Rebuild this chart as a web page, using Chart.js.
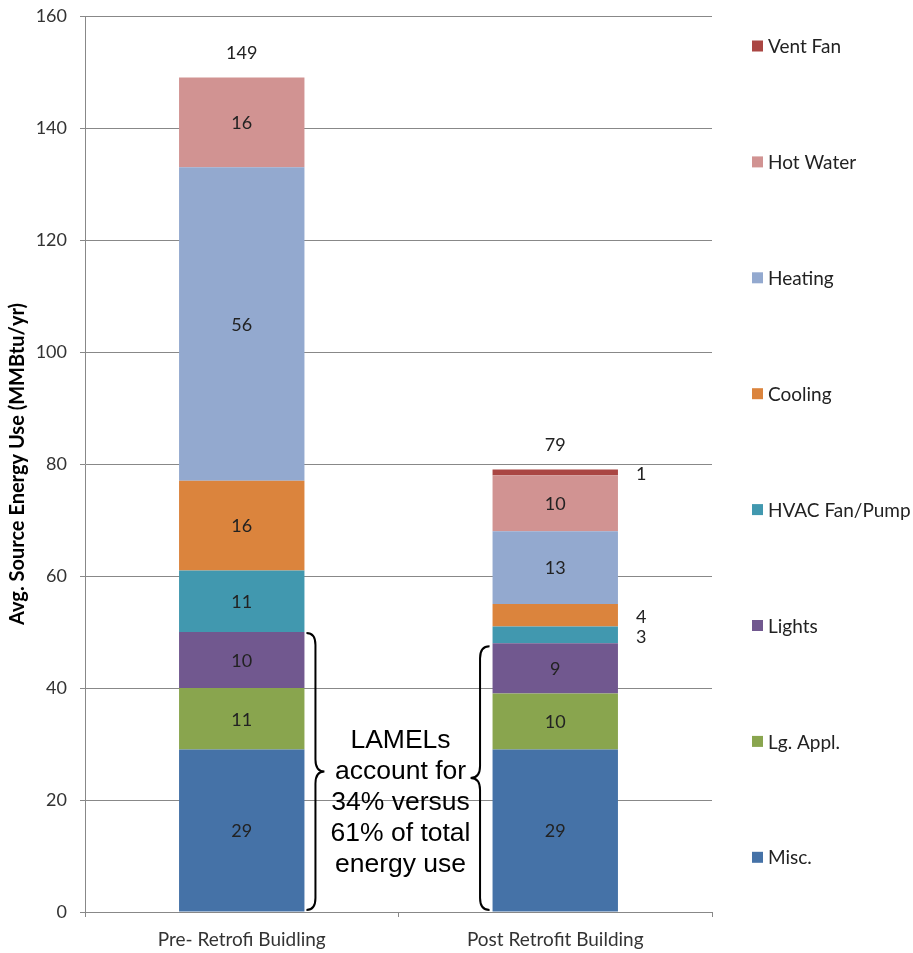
<!DOCTYPE html>
<html>
<head>
<meta charset="utf-8">
<script src="https://cdn.jsdelivr.net/npm/chart.js@4"></script>
<style>
    html, body { margin: 0; padding: 0; background: #fff; }
    #wrap { position: relative; width: 913px; height: 953px; }
</style>
</head>
<body>
<div id="wrap"><canvas id="energyChart"></canvas></div>
<script>
const categories = ['Pre- Retrofi Buidling', 'Post Retrofit Building'];
const seriesNames = ['Misc.', 'Lg. Appl.', 'Lights', 'HVAC Fan/Pump', 'Cooling', 'Heating', 'Hot Water', 'Vent Fan'];
const seriesColors = ['#4572A7', '#89A54E', '#71588F', '#4198AF', '#DB843D', '#93A9CF', '#D19392', '#AA4643'];

const misc = [29, 29];
const lgAppl = [11, 10];
const lights = [10, 9];
const hvacFan = [11, 3];
const cooling = [16, 4];
const heating = [56, 13];
const hotWater = [16, 10];
const ventFan = [0, 1];
const totals = [149, 79];

const yTicks = [0, 20, 40, 60, 80, 100, 120, 140, 160];
const noteLines = ['LAMELs', 'account for', '34% versus', '61% of total', 'energy use'];

const seriesValues = [misc, lgAppl, lights, hvacFan, cooling, heating, hotWater, ventFan];
// LAMELs = Misc + Lg. Appl. + Lights, the first three series
const lamelCount = 3;

const fontFamily = 'Lato, "Open Sans", sans-serif';
const labelFont = '18px ' + fontFamily;
const legendFont = '19px ' + fontFamily;

// value labels inside segments, small ones to the right, totals on top
const valueLabels = {
    id: 'valueLabels',
    afterDatasetsDraw(chart) {
        const ctx = chart.ctx;
        ctx.save();
        ctx.font = labelFont;
        ctx.fillStyle = '#222';
        ctx.textAlign = 'center';
        ctx.textBaseline = 'middle';
        chart.data.datasets.forEach((ds, i) => {
            const meta = chart.getDatasetMeta(i);
            meta.data.forEach((bar, j) => {
                const v = ds.data[j];
                if (!v) return;
                const mid = (bar.y + bar.base) / 2;
                if (v >= 8) {
                    ctx.fillText(v, bar.x, mid + 1);
                } else {
                    ctx.fillText(v, bar.x + 86, mid + 2);
                }
            });
        });
        const lastMeta = chart.getDatasetMeta(chart.data.datasets.length - 1);
        lastMeta.data.forEach((bar, j) => {
            ctx.fillText(totals[j], bar.x, chart.scales.y.getPixelForValue(totals[j]) - 24);
        });
        ctx.restore();
    }
};

function drawBrace(ctx, x0, yTop, yBot, dir, w) {
    const mid = (yTop + yBot) / 2;
    const half = x0 + dir * w / 2;
    const tip = x0 + dir * w;
    const r = 12;
    ctx.beginPath();
    ctx.moveTo(x0, yTop);
    ctx.quadraticCurveTo(half, yTop, half, yTop + r);
    ctx.lineTo(half, mid - r);
    ctx.quadraticCurveTo(half, mid, tip, mid);
    ctx.quadraticCurveTo(half, mid, half, mid + r);
    ctx.lineTo(half, yBot - r);
    ctx.quadraticCurveTo(half, yBot, x0, yBot);
    ctx.stroke();
}

const lamelNote = {
    id: 'lamelNote',
    afterDatasetsDraw(chart) {
        const ctx = chart.ctx;
        const y = chart.scales.y;
        const topMeta = chart.getDatasetMeta(lamelCount - 1);
        const pre = topMeta.data[0];
        const post = topMeta.data[1];
        ctx.save();
        ctx.strokeStyle = '#000';
        ctx.lineWidth = 2;
        drawBrace(ctx, pre.x + pre.width / 2 + 2, pre.y + 1, y.getPixelForValue(0) - 2, 1, 18);
        drawBrace(ctx, post.x - post.width / 2 - 3, post.y + 3, y.getPixelForValue(0) - 2, -1, 19);

        ctx.font = '26.5px "Liberation Sans", Arial, sans-serif';
        ctx.fillStyle = '#000';
        ctx.textAlign = 'center';
        ctx.textBaseline = 'middle';
        const cx = (pre.x + post.x) / 2 + 2;
        noteLines.forEach((t, k) => {
            ctx.fillText(t, cx, 741 + k * 30.8);
        });
        ctx.restore();
    }
};

// legend spread down the right side, top entry = last series
const sideLegend = {
    id: 'sideLegend',
    afterDraw(chart) {
        const ctx = chart.ctx;
        ctx.save();
        ctx.font = legendFont;
        ctx.textBaseline = 'middle';
        ctx.textAlign = 'left';
        const n = seriesNames.length;
        for (let k = 0; k < n; k++) {
            const idx = n - 1 - k;
            const cy = 46 + k * 115.9;
            ctx.fillStyle = seriesColors[idx];
            ctx.fillRect(752, cy - 5.5, 11, 11);
            ctx.fillStyle = '#222';
            ctx.fillText(seriesNames[idx], 768, cy + 1);
        }
        ctx.restore();
    }
};

const ctx = document.getElementById('energyChart').getContext('2d');
const energyChart = new Chart(ctx, {
    type: 'bar',
    data: {
        labels: categories,
        datasets: seriesNames.map((name, i) => ({
            label: name,
            data: seriesValues[i],
            backgroundColor: seriesColors[i],
            borderWidth: 0,
            categoryPercentage: 1,
            barPercentage: 0.4
        }))
    },
    options: {
        responsive: true,
        maintainAspectRatio: false,
        animation: false,
        layout: {
            padding: { top: 16, right: 201, bottom: 0, left: 0 }
        },
        scales: {
            x: {
                stacked: true,
                border: { color: '#888' },
                grid: {
                    display: true,
                    drawOnChartArea: false,
                    offset: true,
                    color: '#888',
                    tickLength: 5
                },
                ticks: {
                    color: '#333',
                    font: { family: fontFamily, size: 19 },
                    padding: 11
                },
                afterFit(scale) {
                    scale.height = 41;
                    scale.paddingLeft = 0;
                    scale.paddingRight = 0;
                }
            },
            y: {
                stacked: true,
                min: 0,
                max: 160,
                afterBuildTicks(scale) {
                    scale.ticks = yTicks.map(v => ({ value: v }));
                },
                border: { color: '#888' },
                grid: {
                    color: '#888',
                    tickLength: 5
                },
                ticks: {
                    color: '#333',
                    font: { family: fontFamily, size: 18 },
                    padding: 13
                },
                title: {
                    display: true,
                    text: 'Avg. Source Energy Use (MMBtu/yr)',
                    color: '#000',
                    font: { family: fontFamily, size: 20, weight: 'bold' },
                    padding: { top: 6, bottom: 0 }
                },
                afterFit(scale) {
                    scale.width = 85;
                    scale.paddingTop = 0;
                    scale.paddingBottom = 0;
                }
            }
        },
        plugins: {
            legend: { display: false },
            tooltip: { enabled: false }
        }
    },
    plugins: [valueLabels, lamelNote, sideLegend]
});
</script>
</body>
</html>
